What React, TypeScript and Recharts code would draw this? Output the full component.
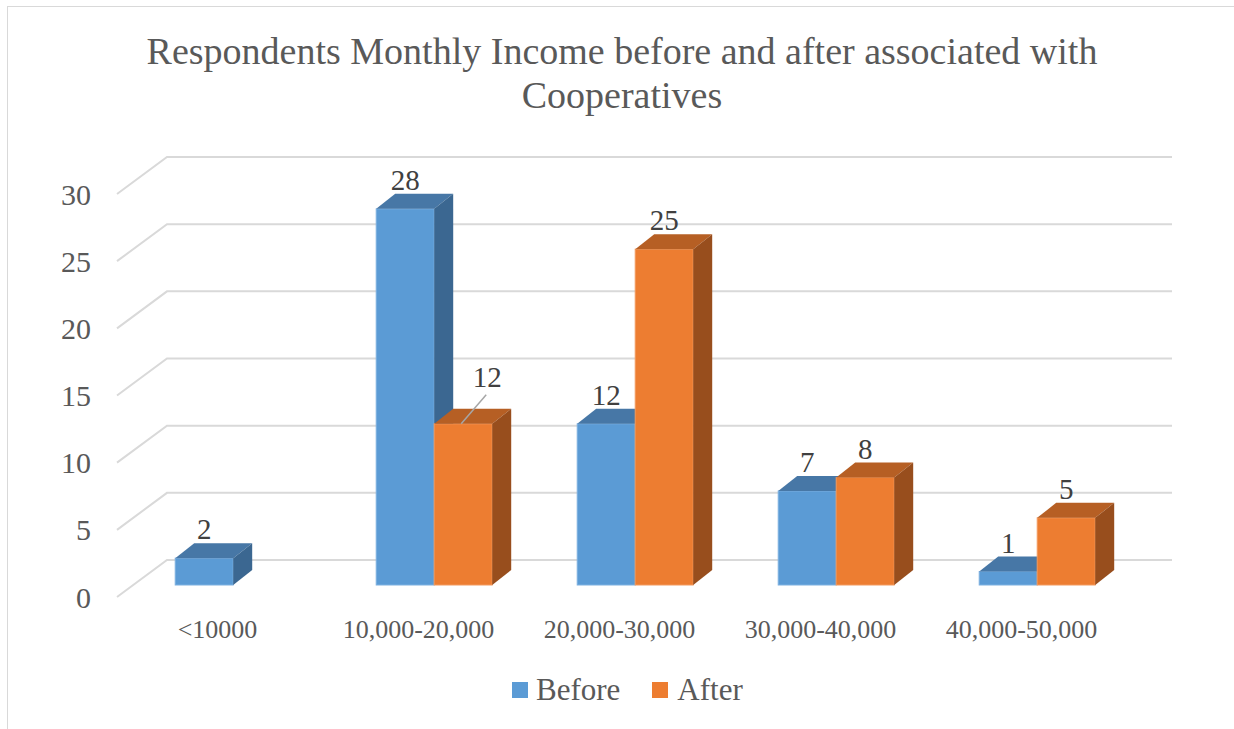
import React from 'react';
import {
  BarChart,
  Bar,
  XAxis,
  YAxis,
  CartesianGrid,
  LabelList,
  Legend
} from 'recharts';

// Income bands and respondent counts
const categories = ['<10000', '10,000-20,000', '20,000-30,000', '30,000-40,000', '40,000-50,000'];
const beforeValues: (number | null)[] = [2, 28, 12, 7, 1];
const afterValues: (number | null)[] = [null, 12, 25, 8, 5];
const yTicks = [0, 5, 10, 15, 20, 25, 30];

const chartData = categories.map((category, i) => ({
  category,
  Before: beforeValues[i],
  After: afterValues[i]
}));

const SERIF = "'Liberation Serif', 'Times New Roman', serif";
const TEXT = '#595959';

// 3D offsets measured from the bar front plane
const DEPTH_X = 19;
const DEPTH_Y = 15;
const FRONT_DX = -16; // floor/front edge of the grid
const FRONT_DY = 12;
const BACK_DX = 34; // back wall of the grid
const BACK_DY = -25;

const BLUE = { front: '#5B9BD5', top: '#4777A6', side: '#3B6791', edge: '#7DB0E0' };
const ORANGE = { front: '#ED7D31', top: '#B65F24', side: '#984E1D', edge: '#F39A5E' };

type Faces = typeof BLUE;

const Box3D = (props: any) => {
  const { x, y, width, height, faces } = props as { x: number; y: number; width: number; height: number; faces: Faces };
  if (height == null || height <= 0 || isNaN(y)) return null;
  const r = x + width;
  const b = y + height;
  return (
    <g>
      <rect x={x} y={y} width={width} height={height} fill={faces.front} stroke={faces.edge} strokeWidth={1} />
      <polygon
        points={`${x},${y} ${x + DEPTH_X},${y - DEPTH_Y} ${r + DEPTH_X},${y - DEPTH_Y} ${r},${y}`}
        fill={faces.top}
      />
      <polygon
        points={`${r},${y} ${r + DEPTH_X},${y - DEPTH_Y} ${r + DEPTH_X},${b - DEPTH_Y} ${r},${b}`}
        fill={faces.side}
      />
    </g>
  );
};

// the "After" label over 10,000-20,000 sits beside its bar with a leader line
const labelNudges: Record<string, { dx: number; dy: number }> = {
  '10,000-20,000': { dx: 24, dy: -18 }
};

// LabelList only walks the entries that have a value
const makeLabel = (values: (number | null)[], nudges?: Record<string, { dx: number; dy: number }>) => {
  const shown = categories.filter((_, i) => values[i] != null);
  return (props: any) => {
    const { x, y, width, value, index } = props;
    if (value == null) return null;
    const cx = x + width / 2;
    const ly = y - 29;
    const nudge = nudges ? nudges[shown[index]] : undefined;
    if (nudge) {
      return (
        <g>
          <line x1={cx + nudge.dx - 1} y1={ly + nudge.dy + 18} x2={cx - 2} y2={y} stroke="#A6A6A6" strokeWidth={1.5} />
          <text x={cx + nudge.dx} y={ly + nudge.dy} textAnchor="middle" dominantBaseline="central" fontFamily={SERIF} fontSize={29} fill="#404040">
            {value}
          </text>
        </g>
      );
    }
    return (
      <text x={cx} y={ly} textAnchor="middle" dominantBaseline="central" fontFamily={SERIF} fontSize={29} fill="#404040">
        {value}
      </text>
    );
  };
};

const GridLine = (props: any) => {
  const { x1, x2, y, y1, key, index } = props;
  const yy = y1 ?? y;
  const d = `M${x1 + FRONT_DX},${yy + FRONT_DY} L${x1 + BACK_DX},${yy + BACK_DY} L${x2 + BACK_DX},${yy + BACK_DY}`;
  return <path key={key ?? `grid-${index}`} d={d} fill="none" stroke="#D9D9D9" strokeWidth={2} />;
};

const YTick = (props: any) => {
  const { x, y, payload } = props;
  return (
    <text x={x - 42} y={y + FRONT_DY} textAnchor="end" dominantBaseline="central" fontFamily={SERIF} fontSize={30} fill={TEXT}>
      {payload.value}
    </text>
  );
};

const XTick = (props: any) => {
  const { x, y, payload } = props;
  return (
    <text x={x + FRONT_DX} y={y + FRONT_DY + 32} textAnchor="middle" dominantBaseline="central" fontFamily={SERIF} fontSize={26} fill={TEXT}>
      {payload.value}
    </text>
  );
};

const LegendContent = () => (
  <div style={{ display: 'flex', alignItems: 'center', fontFamily: SERIF, fontSize: 31, color: TEXT, lineHeight: '36px', whiteSpace: 'nowrap' }}>
    <span style={{ width: 16, height: 16, background: BLUE.front, display: 'inline-block', marginRight: 8 }} />
    <span>Before</span>
    <span style={{ width: 16, height: 16, background: ORANGE.front, display: 'inline-block', marginLeft: 32, marginRight: 9 }} />
    <span>After</span>
  </div>
);

const App: React.FC = () => {
  return (
    <div style={{ position: 'fixed', left: 0, top: 0, width: 1234, height: 729, overflow: 'hidden', background: '#fff' }}>
      <div style={{ position: 'absolute', left: 7, top: 6, width: 1260, height: 760, border: '1px solid #D9D9D9' }} />
      <div
        style={{
          position: 'absolute',
          left: 0,
          top: 29,
          width: 1244,
          textAlign: 'center',
          fontFamily: SERIF,
          fontSize: 38,
          lineHeight: '44px',
          color: TEXT
        }}
      >
        Respondents Monthly Income before and after associated with
        <br />
        Cooperatives
      </div>
      <div style={{ position: 'absolute', left: 0, top: 0 }}>
        <BarChart
          width={1234}
          height={729}
          data={chartData}
          margin={{ top: 182, right: 96, bottom: 100, left: 0 }}
          barCategoryGap="21%"
          barGap={0}
        >
          <CartesianGrid vertical={false} horizontal={GridLine} />
          <XAxis dataKey="category" height={44} tickSize={0} tickMargin={0} axisLine={false} tickLine={false} tick={<XTick />} interval={0} />
          <YAxis width={133} domain={[0, 30]} ticks={yTicks} tickSize={0} tickMargin={0} axisLine={false} tickLine={false} tick={<YTick />} />
          <Legend
            layout="vertical"
            align="center"
            verticalAlign="middle"
            content={<LegendContent />}
            wrapperStyle={{ top: 672, left: 512, width: 'auto' }}
          />
          <Bar dataKey="Before" isAnimationActive={false} shape={(p: any) => <Box3D {...p} faces={BLUE} />}>
            <LabelList dataKey="Before" content={makeLabel(beforeValues)} />
          </Bar>
          <Bar dataKey="After" isAnimationActive={false} shape={(p: any) => <Box3D {...p} faces={ORANGE} />}>
            <LabelList dataKey="After" content={makeLabel(afterValues, labelNudges)} />
          </Bar>
        </BarChart>
      </div>
    </div>
  );
};

export default App;
